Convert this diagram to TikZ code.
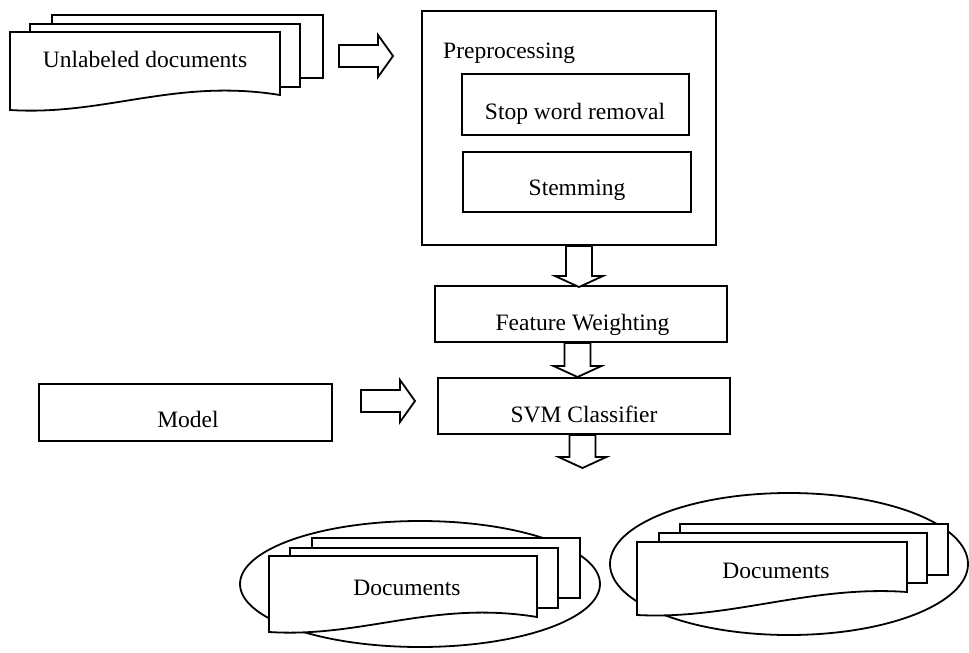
\documentclass[tikz,border=0pt]{standalone}
\usepackage{fontspec}
\setmainfont{Liberation Serif}
\usetikzlibrary{calc,shapes.geometric}

\tikzset{
  ln/.style={line width=1.8pt, line join=miter},
  box/.style={ln, draw, fill=white, rectangle, inner sep=0pt},
  txt/.style={font=\fontsize{23.5pt}{28pt}\selectfont, inner sep=0pt, anchor=base},
  sheet/.style={ln, draw, fill=white},
  hollow/.style={ln, draw, fill=white},
  group/.style={ln, draw, ellipse, inner sep=0pt},
}

% hollow block arrow pointing right, from #1 to the tip #2
\newcommand\blkright[2]{\path[hollow] let \p1=(#1), \p2=(#2) in
  (\x1,\y1-11pt) -- (\x2-15pt,\y1-11pt) -- (\x2-15pt,\y1-21pt) -- (\x2,\y1)
  -- (\x2-15pt,\y1+21pt) -- (\x2-15pt,\y1+11pt) -- (\x1,\y1+11pt) -- cycle;}
% hollow block arrow pointing down, from #1 to the tip #2
\newcommand\blkdown[2]{\path[hollow] let \p1=(#1), \p2=(#2) in
  (\x1-13pt,\y1) -- (\x1-13pt,\y2+11pt) -- (\x1-24pt,\y2+11pt) -- (\x1,\y2)
  -- (\x1+24pt,\y2+11pt) -- (\x1+13pt,\y2+11pt) -- (\x1+13pt,\y1) -- cycle;}

\begin{document}
\begin{tikzpicture}[x=1pt,y=-1pt]
\useasboundingbox (0,0) rectangle (969,653);

% input document stack
\draw[sheet] (52,15) rectangle (323,78);
\draw[sheet] (30,24) rectangle (300,87);
\draw[sheet] (10,32) -- (280,32) -- (280,95)
  .. controls (175,78) and (105,116) .. (10,110) -- cycle;
\node[txt] (unl) at (145,67) {Unlabeled documents};

% preprocessing block
\node[box, minimum width=294pt, minimum height=234pt] (pre) at (569,128) {};
\node[txt, anchor=base west] (pret) at (443,58) {Preprocessing};
\node[box, minimum width=227pt, minimum height=61pt] (stop) at (575.5,104.5) {};
\node[txt] (stopt) at (575,119) {Stop word removal};
\node[box, minimum width=228pt, minimum height=60pt] (stem) at (577,182) {};
\node[txt] (stemt) at (577,195) {Stemming};

% feature weighting and classifier
\node[box, minimum width=292pt, minimum height=56pt] (fw) at (581,314) {};
\node[txt] (fwt) at (582.5,330) {Feature Weighting};
\node[box, minimum width=292pt, minimum height=56pt] (svm) at (584,406) {};
\node[txt] (svmt) at (584,422) {SVM Classifier};
\node[box, minimum width=293pt, minimum height=57pt] (model) at (185.5,412.5) {};
\node[txt] (modelt) at (188,427) {Model};

% output groups
\node[group, minimum width=360pt, minimum height=126pt] (g1) at (420,584) {};
\node[group, minimum width=358pt, minimum height=142pt] (g2) at (789,564) {};

\draw[sheet] (312,538) rectangle (580,598);
\draw[sheet] (290,548) rectangle (558,608);
\draw[sheet] (269,556) -- (537,556) -- (537,617)
  .. controls (433,600) and (363,638) .. (269,632) -- cycle;
\node[txt] (d1) at (407,595) {Documents};

\draw[sheet] (680,524) rectangle (948,575);
\draw[sheet] (659,533) rectangle (927,583);
\draw[sheet] (637,542) -- (907,542) -- (907,592)
  .. controls (810,585) and (730,620) .. (637,615) -- cycle;
\node[txt] (d2) at (776,578) {Documents};

% block arrows
\coordinate (a1s) at (339,56);
\coordinate (a1e) at (393,56);
\coordinate (a2s) at (579,0 |- pre.south);
\coordinate (a2e) at (579,287);
\coordinate (a3s) at (577.5,0 |- fw.south);
\coordinate (a3e) at (577.5,377);
\coordinate (a4s) at (361,401);
\coordinate (a4e) at (415,401);
\coordinate (a5s) at (582.5,0 |- svm.south);
\coordinate (a5e) at (582.5,468);
\blkright{a1s}{a1e}
\blkdown{a2s}{a2e}
\blkdown{a3s}{a3e}
\blkright{a4s}{a4e}
\blkdown{a5s}{a5e}
\end{tikzpicture}
\end{document}
